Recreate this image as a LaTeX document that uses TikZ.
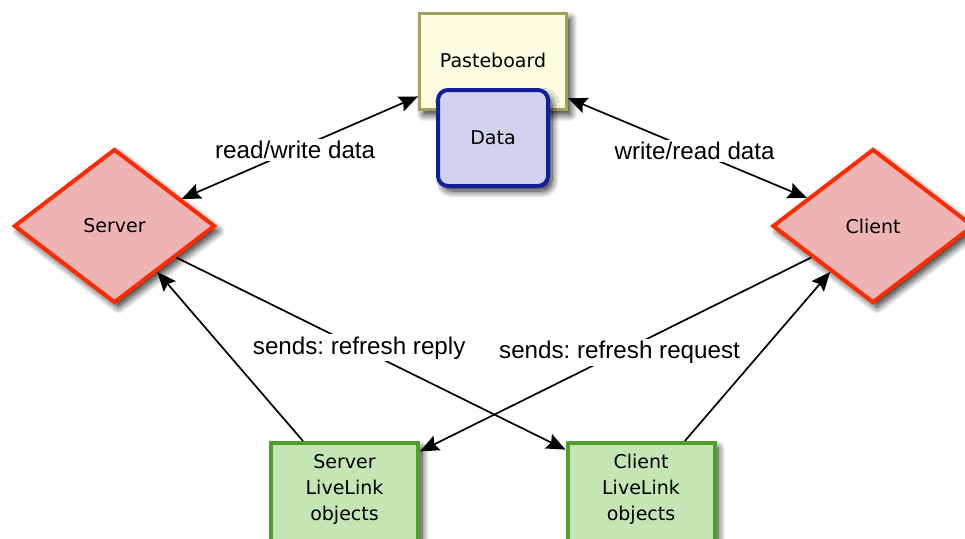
\documentclass[tikz,border=0pt]{standalone}
\usepackage{fontspec}
\setmainfont{DejaVu Sans}
\newfontfamily\labelfont{Liberation Sans}
\usetikzlibrary{shapes.geometric,arrows.meta,shadows.blur,calc}

\definecolor{pbfill}{HTML}{FDFDE2}
\definecolor{pbline}{HTML}{A89E5C}
\definecolor{datafill}{HTML}{D2D2EE}
\definecolor{dataline}{HTML}{10209A}
\definecolor{rolefill}{HTML}{EEB3B3}
\definecolor{roleline}{HTML}{FF2A00}
\definecolor{llfill}{HTML}{C4E6B4}
\definecolor{llline}{HTML}{4EA02A}

\begin{document}
\frenchspacing
\begin{tikzpicture}[x=1pt,y=-1pt,
  shade/.style={blur shadow={shadow xshift=4pt,shadow yshift=-5pt,shadow blur radius=7pt,shadow blur steps=10,shadow opacity=85}},
  nodetext/.style={align=center,font=\fontsize{19}{26}\selectfont},
  pbbox/.style={shade,nodetext,draw=pbline,fill=pbfill,line width=3pt,
    minimum width=147pt,minimum height=96pt},
  databox/.style={shade,nodetext,draw=dataline,fill=datafill,line width=4pt,
    rounded corners=10pt,minimum width=110pt,minimum height=96pt},
  role/.style={shade,nodetext,diamond,draw=roleline,fill=rolefill,line width=4pt,
    minimum width=201pt,minimum height=154pt},
  llbox/.style={shade,nodetext,draw=llline,fill=llfill,line width=4pt,
    minimum width=147pt,minimum height=104pt},
  conn/.style={line width=1.7pt,-{Stealth[length=19pt,width=16pt,inset=3pt]}},
  biconn/.style={line width=1.7pt,{Stealth[length=19pt,width=16pt,inset=3pt]}-{Stealth[length=19pt,width=16pt,inset=3pt]}},
  lbl/.style={fill=white,inner sep=2pt,font=\labelfont\fontsize{24.2}{28}\selectfont}]

\useasboundingbox (0,0) rectangle (965,538);

% pasteboard with its data item on top
\node[pbbox] (paste) at (493,61.5) {};
\node[nodetext] (pastelabel) at (493,60) {Pasteboard};
\node[databox] (data) at (493,138) {Data};

% the two roles
\node[role] (srv) at (114.5,226) {Server};
\node[role] (cli) at (873,226) {Client};

% live link object groups
\node[llbox] (sll) at (344.5,495) {};
\node[llbox] (cll) at (641,495) {};
\node[nodetext] (slltext) at (344.5,489) {Server\\LiveLink\\objects};
\node[nodetext] (clltext) at (641,489) {Client\\LiveLink\\objects};

% pasteboard traffic
\draw[biconn] (srv.22) -- node[lbl,pos=0.48] (rw) {read/write data} (paste.205);
\draw[biconn] (paste.334) -- node[lbl,pos=0.53] (wr) {write/read data} (cli.157);

% refresh messages
\draw[conn] (srv.-27) -- node[lbl,pos=0.47] (reply) {sends: refresh reply} (cll.149);
\draw[conn] (cli.207) -- node[lbl,pos=0.49] (request) {sends: refresh request} (sll.30);

% live link objects notify their owners
\coordinate (sllout) at ($(sll.north west)!0.225!(sll.north east)$);
\coordinate (cllout) at ($(cll.north west)!0.79!(cll.north east)$);
\draw[conn] (sllout) -- (srv.-47);
\draw[conn] (cllout) -- (cli.227);
\end{tikzpicture}
\end{document}
